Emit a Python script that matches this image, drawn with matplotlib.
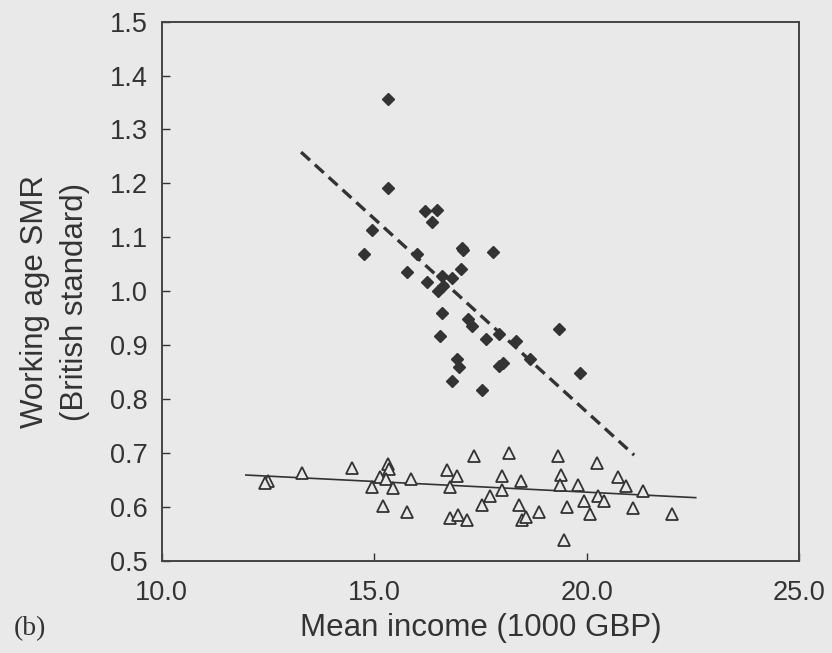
import matplotlib
matplotlib.use("Agg")
import matplotlib.pyplot as plt

# Britain (filled diamonds): mean income (1000 GBP) vs working age SMR
uk_income = [15.33, 15.33, 16.20, 16.48, 16.37, 14.95, 14.76, 16.01, 15.77, 17.07,
             17.09, 17.79, 17.05, 16.59, 16.84, 16.25, 16.51, 16.63, 16.59, 17.20,
             17.31, 19.34, 16.54, 17.63, 17.94, 18.33, 18.66, 16.95, 17.00, 17.94,
             18.04, 19.84, 16.84, 17.55]
uk_smr = [1.357, 1.191, 1.148, 1.151, 1.129, 1.113, 1.069, 1.069, 1.035, 1.081,
          1.076, 1.073, 1.042, 1.028, 1.025, 1.018, 1.001, 1.010, 0.960, 0.948,
          0.936, 0.930, 0.916, 0.911, 0.921, 0.908, 0.874, 0.875, 0.860, 0.861,
          0.867, 0.849, 0.833, 0.817]

# Japan (open triangles)
jp_income = [12.49, 12.43, 13.31, 14.49, 15.33, 15.36, 15.14, 15.28, 14.94, 15.45,
             15.87, 15.20, 15.77, 16.71, 16.94, 16.79, 17.36, 16.78, 16.97, 17.19,
             18.18, 18.02, 18.02, 17.72, 17.53, 18.45, 18.42, 18.48, 18.58, 18.88,
             19.32, 19.41, 19.38, 19.55, 19.46, 19.81, 19.94, 20.09, 20.25, 20.28,
             20.40, 20.73, 20.94, 21.10, 21.32, 22.02]
jp_smr = [0.648, 0.645, 0.663, 0.672, 0.679, 0.670, 0.656, 0.652, 0.636, 0.634,
          0.652, 0.601, 0.591, 0.668, 0.657, 0.636, 0.695, 0.579, 0.585, 0.576,
          0.699, 0.657, 0.631, 0.621, 0.603, 0.647, 0.603, 0.576, 0.581, 0.591,
          0.694, 0.659, 0.640, 0.599, 0.538, 0.640, 0.611, 0.587, 0.682, 0.621,
          0.610, 0.655, 0.638, 0.597, 0.629, 0.587]

# regression lines (end points)
uk_fit_x = [13.28, 21.12]
uk_fit_y = [1.258, 0.696]
jp_fit_x = [11.98, 22.57]
jp_fit_y = [0.659, 0.617]

xticks = [10, 15, 20, 25]
yticks = [0.5, 0.6, 0.7, 0.8, 0.9, 1.0, 1.1, 1.2, 1.3, 1.4, 1.5]

bg = "#e9e9e9"
ink = "#333333"

plt.rcParams["font.family"] = ["Liberation Sans", "DejaVu Sans"]

fig = plt.figure(figsize=(8.32, 6.53), dpi=100, facecolor=bg)
ax = fig.add_axes([0.1944, 0.1413, 0.7659, 0.8255], facecolor=bg)

ax.plot(uk_fit_x, uk_fit_y, color=ink, lw=2.4, ls=(0, (3.6, 2.0)))
ax.plot(jp_fit_x, jp_fit_y, color=ink, lw=1.2)
ax.plot(uk_income, uk_smr, ls="none", marker="D", ms=6.5, color=ink, mec=ink)
ax.plot(jp_income, jp_smr, ls="none", marker="^", ms=8.5, mfc=bg, mec=ink, mew=1.3)

ax.set_xlim(10, 25)
ax.set_ylim(0.5, 1.5)
ax.set_xticks(xticks)
ax.set_xticklabels(["%.1f" % t for t in xticks])
ax.set_yticks(yticks)
ax.set_yticklabels(["%.1f" % t for t in yticks])
ax.tick_params(direction="in", length=6, width=1, colors=ink, labelsize=19.5)
ax.tick_params(axis="x", pad=14)
ax.tick_params(axis="y", pad=10)
for s in ax.spines.values():
    s.set_color("#444444")
    s.set_linewidth(1.4)

ax.set_xlabel("Mean income (1000 GBP)", fontsize=22.5, color=ink, labelpad=5)
ax.set_ylabel("Working age SMR\n(British standard)", fontsize=22.5, color=ink,
              linespacing=1.45)
ax.yaxis.set_label_coords(-0.112, 0.481)

fig.text(0.016, 0.028, "(b)", fontsize=20, color=ink, family="Liberation Serif")

fig.savefig("out.png", dpi=100, facecolor=bg)
